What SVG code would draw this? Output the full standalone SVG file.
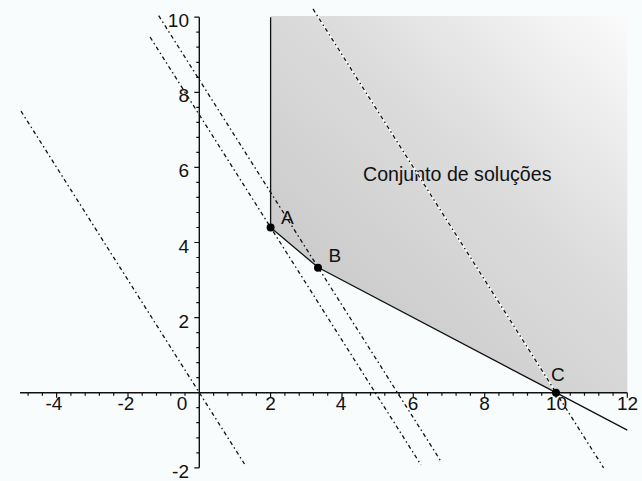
<svg xmlns="http://www.w3.org/2000/svg" width="642" height="481" viewBox="0 0 642 481">
<defs>
<linearGradient id="g" gradientUnits="userSpaceOnUse" x1="271" y1="393" x2="627" y2="15">
<stop offset="0" stop-color="#c2c2c2"/>
<stop offset="0.6" stop-color="#dcdcdc"/>
<stop offset="1" stop-color="#fbfbfb"/>
</linearGradient>
</defs>
<style>
text{font-family:"Liberation Sans",Arial,sans-serif;font-size:19px;fill:#111}
.ax{stroke:#111;stroke-width:1.4;fill:none}
.tk{stroke:#111;stroke-width:1.2;fill:none}
.dash{stroke:#111;stroke-width:1.3;fill:none;stroke-dasharray:4 3 1.5 3}
.halo{stroke:#fbfdfd;stroke-width:2;fill:none}
.solid{stroke:#111;stroke-width:1.3;fill:none}
.pt{fill:#000}
.xl{text-anchor:middle}
.yl{text-anchor:end}
</style>
<rect width="642" height="481" fill="#f8fcfc"/>
<g id="region">
<path d="M270.6,16 L627.3,16 L627.3,392.7 L556,392.7 L318.2,267.5 L270.6,227.5 Z" fill="url(#g)"/>
</g>
<g id="axes">
<path class="ax" d="M20,392.7 H627.3 M199.3,17.2 V467.8"/>
<path class="tk" d="M28.1,392.7v3M42.4,392.7v3M56.6,392.7v5M70.9,392.7v3M85.2,392.7v3M99.4,392.7v3M113.7,392.7v3M128,392.7v5M142.2,392.7v3M156.5,392.7v3M170.8,392.7v3M185,392.7v3M213.6,392.7v3M227.8,392.7v3M242.1,392.7v3M256.4,392.7v3M270.6,392.7v5M284.9,392.7v3M299.2,392.7v3M313.4,392.7v3M327.7,392.7v3M342,392.7v5M356.3,392.7v3M370.5,392.7v3M384.8,392.7v3M399.1,392.7v3M413.3,392.7v5M427.6,392.7v3M441.9,392.7v3M456.1,392.7v3M470.4,392.7v3M484.7,392.7v5M498.9,392.7v3M513.2,392.7v3M527.5,392.7v3M541.7,392.7v3M556,392.7v5M570.3,392.7v3M584.5,392.7v3M598.8,392.7v3M613.1,392.7v3M627.3,392.7v5"/>
<path class="tk" d="M199.3,467.8h-5M199.3,452.8h-3M199.3,437.8h-3M199.3,422.7h-3M199.3,407.7h-3M199.3,377.7h-3M199.3,362.7h-3M199.3,347.6h-3M199.3,332.6h-3M199.3,317.6h-5M199.3,302.6h-3M199.3,287.6h-3M199.3,272.5h-3M199.3,257.5h-3M199.3,242.5h-5M199.3,227.5h-3M199.3,212.5h-3M199.3,197.4h-3M199.3,182.4h-3M199.3,167.4h-5M199.3,152.4h-3M199.3,137.4h-3M199.3,122.3h-3M199.3,107.3h-3M199.3,92.3h-5M199.3,77.3h-3M199.3,62.3h-3M199.3,47.2h-3M199.3,32.2h-3M199.3,17.2h-5"/>
<g id="axis-labels">
<text class="xl" x="54" y="410">-4</text>
<text class="xl" x="126" y="410">-2</text>
<text class="xl" x="182" y="410">0</text>
<text class="xl" x="270.6" y="410">2</text>
<text class="xl" x="341" y="410">4</text>
<text class="xl" x="413" y="410">6</text>
<text class="xl" x="484.5" y="410">8</text>
<text class="xl" x="556.5" y="410">10</text>
<text class="xl" x="627.5" y="410">12</text>
<text class="yl" x="189" y="27">10</text>
<text class="yl" x="189" y="102">8</text>
<text class="yl" x="189" y="177">6</text>
<text class="yl" x="189" y="252.5">4</text>
<text class="yl" x="189" y="327.5">2</text>
<text class="yl" x="189" y="477.5">-2</text>
</g>
</g>
<g id="label"><text x="363" y="181" style="font-size:19.6px">Conjunto de soluções</text></g>
<g id="connectors">
<path class="dash" d="M21,111.1 L244.5,464"/>
<path class="dash" d="M150.1,37.1 L420.9,464.8"/>
<path class="dash" d="M158.7,15.7 L441.1,461.6"/>
<path class="halo" d="M317.5,16 L554.3,390"/>
<path class="dash" d="M313,8.9 L603.6,467.8"/>
<path class="solid" d="M270.6,17.2 V227.5 L318.2,267.5 L556,392.7 L627.3,430.2"/>
</g>
<g id="A"><circle class="pt" cx="270.6" cy="227.5" r="4"/><text x="281" y="224">A</text></g>
<g id="B"><circle class="pt" cx="318" cy="267.8" r="4"/><text x="328.5" y="262">B</text></g>
<g id="C"><circle class="pt" cx="556" cy="392.7" r="4"/><text x="551" y="380.5">C</text></g>
</svg>
